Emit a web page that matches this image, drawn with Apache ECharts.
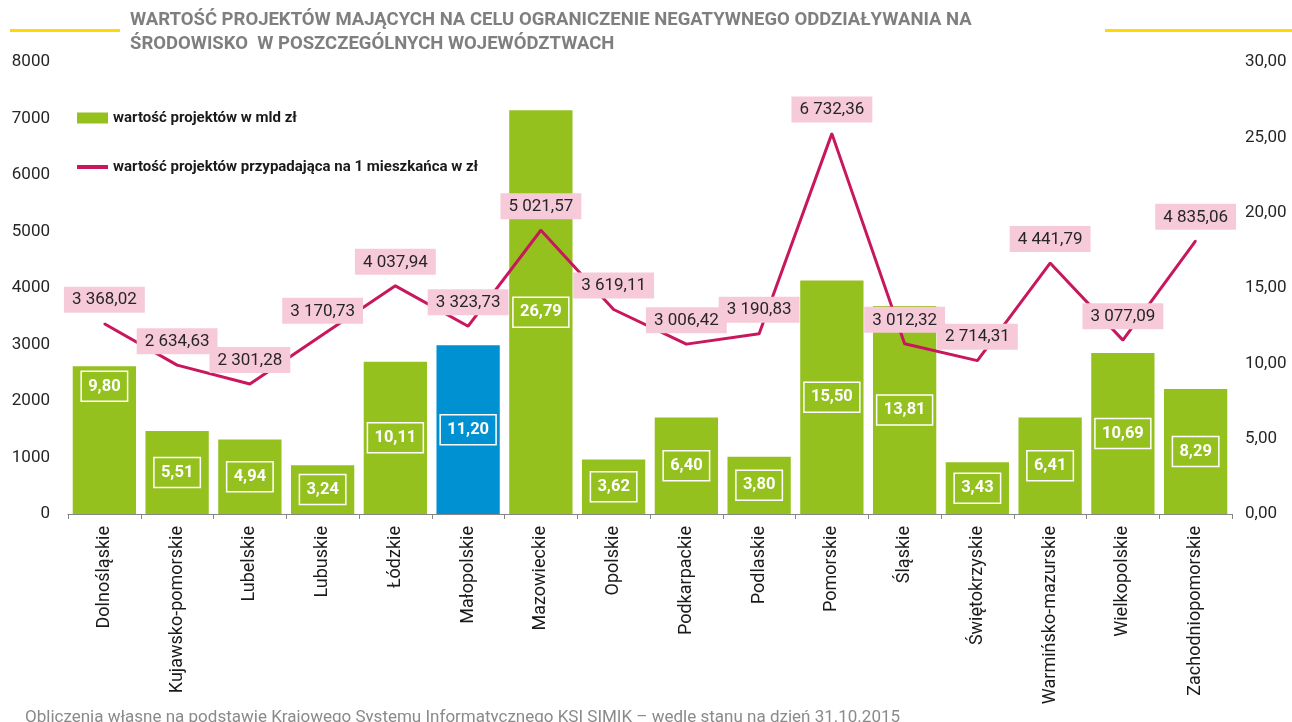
<!DOCTYPE html>
<html lang="pl">
<head>
<meta charset="utf-8">
<title>Wartość projektów</title>
<script src="https://cdn.jsdelivr.net/npm/echarts@6.0.0/dist/echarts.min.js"></script>
<style>
  html, body { margin: 0; padding: 0; background: #fff; }
  #chart { width: 1292px; height: 722px; }
</style>
</head>
<body>
<div id="chart"></div>
<script>
// województwa
const regions = [
  "Dolnośląskie", "Kujawsko-pomorskie", "Lubelskie", "Lubuskie", "Łódzkie",
  "Małopolskie", "Mazowieckie", "Opolskie", "Podkarpackie", "Podlaskie",
  "Pomorskie", "Śląskie", "Świętokrzyskie", "Warmińsko-mazurskie",
  "Wielkopolskie", "Zachodniopomorskie"
];
// wartość projektów w mld zł (prawa oś)
const valueBn = [9.80, 5.51, 4.94, 3.24, 10.11, 11.20, 26.79, 3.62, 6.40, 3.80, 15.50, 13.81, 3.43, 6.41, 10.69, 8.29];
// wartość na 1 mieszkańca w zł (lewa oś)
const perCapita = [3368.02, 2634.63, 2301.28, 3170.73, 4037.94, 3323.73, 5021.57, 3619.11, 3006.42, 3190.83, 6732.36, 3012.32, 2714.31, 4441.79, 3077.09, 4835.06];
const leftTicks = [0, 8000, 1000];
const rightTicks = [0, 30, 5];
const highlighted = "Małopolskie";

const FONT = "Roboto, 'Noto Sans', sans-serif";
const LINE_COLOR = "#C8175D";

function fmtPl(v) {
  const parts = v.toFixed(2).split(".");
  return parts[0].replace(/\B(?=(\d{3})+(?!\d))/g, " ") + "," + parts[1];
}

const barData = valueBn.map((v, i) => {
  const item = { value: v };
  if (regions[i] === highlighted) item.itemStyle = { color: "#0091D2" };
  // etykieta pierwszego słupka przesunięta do góry
  if (i === 0) item.label = { position: "insideTop", distance: 5 };
  return item;
});

const option = {
  animation: false,
  textStyle: { fontFamily: FONT },
  title: {
    text: "WARTOŚĆ PROJEKTÓW MAJĄCYCH NA CELU OGRANICZENIE NEGATYWNEGO ODDZIAŁYWANIA NA\nŚRODOWISKO  W POSZCZEGÓLNYCH WOJEWÓDZTWACH",
    left: 130,
    top: 8,
    padding: 0,
    textStyle: {
      fontFamily: FONT,
      fontSize: 18.5,
      fontWeight: "bold",
      color: "#7f7f7f",
      lineHeight: 24
    }
  },
  legend: {
    orient: "vertical",
    left: 77,
    top: 109,
    padding: 0,
    itemGap: 31,
    itemWidth: 31,
    itemHeight: 11,
    data: [
      { name: "wartość projektów w mld zł", icon: "rect" },
      { name: "wartość projektów przypadająca na 1 mieszkańca w zł", icon: "path://M0,0 L31,0 L31,4 L0,4 Z" }
    ],
    textStyle: {
      fontFamily: FONT,
      fontSize: 15,
      fontWeight: "bold",
      color: "#1a1a1a",
      lineHeight: 18
    }
  },
  grid: {
    left: 68,
    right: 60,
    top: 62,
    bottom: 208
  },
  xAxis: {
    type: "category",
    data: regions,
    axisLine: { lineStyle: { color: "#868686", width: 1 } },
    axisTick: { show: true, length: 5, lineStyle: { color: "#868686" } },
    axisLabel: {
      rotate: 90,
      margin: 12,
      fontSize: 18,
      color: "#1a1a1a",
      fontFamily: FONT
    }
  },
  yAxis: [
    {
      type: "value",
      min: leftTicks[0],
      max: leftTicks[1],
      interval: leftTicks[2],
      axisLine: { show: false },
      axisTick: { show: false },
      splitLine: { show: false },
      axisLabel: {
        margin: 18,
        fontSize: 17,
        color: "#262626",
        fontFamily: FONT,
        formatter: (v) => String(v)
      }
    },
    {
      type: "value",
      min: rightTicks[0],
      max: rightTicks[1],
      interval: rightTicks[2],
      axisLine: { show: false },
      axisTick: { show: false },
      splitLine: { show: false },
      axisLabel: {
        margin: 13,
        fontSize: 17,
        color: "#262626",
        fontFamily: FONT,
        formatter: (v) => v.toFixed(2).replace(".", ",")
      }
    }
  ],
  series: [
    {
      name: "wartość projektów w mld zł",
      type: "bar",
      yAxisIndex: 1,
      barCategoryGap: "13%",
      itemStyle: { color: "#95C11F" },
      data: barData,
      label: {
        show: true,
        position: "inside",
        color: "#fff",
        fontSize: 16.5,
        fontWeight: "bold",
        fontFamily: FONT,
        borderColor: "#fff",
        borderWidth: 1.5,
        padding: [7, 7, 6, 7],
        formatter: (p) => p.value.toFixed(2).replace(".", ",")
      },
      z: 2
    },
    {
      name: "wartość projektów przypadająca na 1 mieszkańca w zł",
      type: "line",
      yAxisIndex: 0,
      symbol: "circle",
      symbolSize: 2,
      showSymbol: true,
      data: perCapita,
      lineStyle: { color: LINE_COLOR, width: 3 },
      itemStyle: { color: LINE_COLOR },
      label: {
        show: true,
        position: "top",
        distance: 10,
        color: "#262626",
        fontSize: 17,
        fontFamily: FONT,
        backgroundColor: "#F7CADA",
        padding: [5, 8, 4, 8],
        formatter: (p) => fmtPl(p.value)
      },
      z: 3
    }
  ],
  graphic: [
    {
      type: "rect",
      left: 10,
      top: 29,
      shape: { width: 110, height: 3 },
      style: { fill: "#FFDA00" }
    },
    {
      type: "rect",
      left: 1105,
      top: 29,
      shape: { width: 187, height: 3 },
      style: { fill: "#FFDA00" }
    },
    {
      type: "text",
      left: 25,
      top: 709,
      style: {
        text: "Obliczenia własne na podstawie Krajowego Systemu Informatycznego KSI SIMIK – wedle stanu na dzień 31.10.2015",
        fill: "#8a8a8a",
        font: "17px " + FONT
      }
    }
  ]
};

const chart = echarts.init(document.getElementById("chart"));
chart.setOption(option);
window.addEventListener("resize", () => {
  chart.resize();
});
</script>
</body>
</html>
